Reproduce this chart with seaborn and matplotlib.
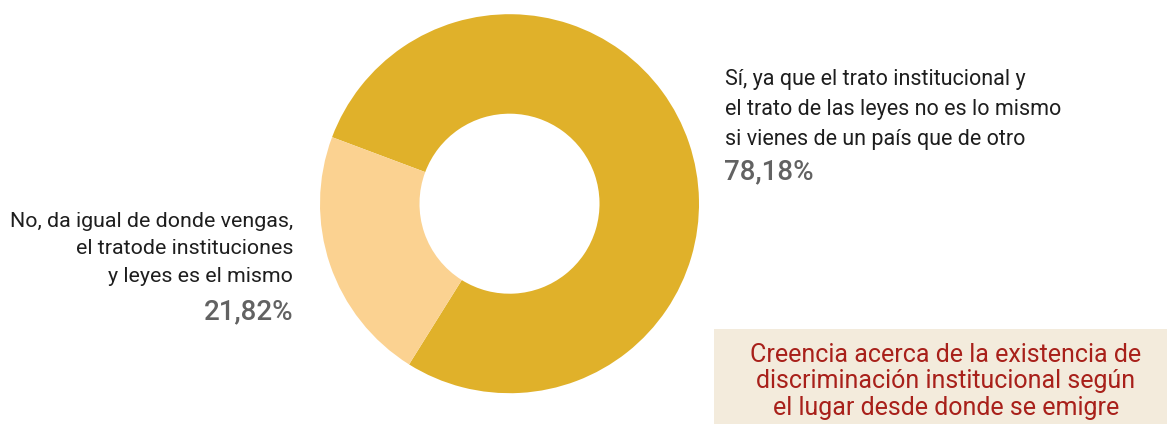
import matplotlib
matplotlib.use("Agg")
import matplotlib.pyplot as plt
from matplotlib.patches import Rectangle
import seaborn as sns

# Survey answers and their shares (%)
labels = [
    "Sí, ya que el trato institucional y\nel trato de las leyes no es lo mismo\nsi vienes de un país que de otro",
    "No, da igual de donde vengas,\nel tratode instituciones\ny leyes es el mismo",
]
shares = [78.18, 21.82]
share_text = ["78,18%", "21,82%"]
colors = ["#E0B12A", "#FBD291"]
title = "Creencia acerca de la existencia de\ndiscriminación institucional según\nel lugar desde donde se emigre"

sns.set_theme(style="white")
plt.rcParams["font.family"] = ["Roboto", "DejaVu Sans"]

W, H = 1167, 424
fig = plt.figure(figsize=(W / 100, H / 100), dpi=100)
fig.patch.set_facecolor("white")

# Donut: centre (509.5, 203.7) px, outer radius 189.5 px
cx, cy, r = 509.5, 203.7, 189.5
ax = fig.add_axes([(cx - r) / W, (H - cy - r) / H, 2 * r / W, 2 * r / H])
ax.pie(shares, colors=colors, startangle=-122, counterclock=True,
       radius=1.0, wedgeprops=dict(width=0.525, linewidth=0))
ax.set_xlim(-1, 1)
ax.set_ylim(-1, 1)
ax.set_aspect("equal")
ax.axis("off")

def fy(y):
    return 1 - y / H

def fx(x):
    return x / W

text_color = "#1E1E1E"
pct_color = "#626262"

# Right label (large slice)
fig.text(fx(725), fy(69), labels[0], ha="left", va="top", fontsize=15.5,
         color=text_color, linespacing=1.56)
fig.text(fx(724), fy(158), share_text[0], ha="left", va="top", fontsize=20,
         color=pct_color, fontweight="medium")

# Left label (small slice)
fig.text(fx(293), fy(212), labels[1], ha="right", va="top", fontsize=15.4,
         color=text_color, linespacing=1.56, multialignment="right")
fig.text(fx(293), fy(298), share_text[1], ha="right", va="top", fontsize=20,
         color=pct_color, fontweight="medium")

# Title box
fig.patches.append(Rectangle((fx(714), 0), fx(W) - fx(714), fy(329),
                             transform=fig.transFigure, facecolor="#F3EBDC",
                             edgecolor="none", zorder=0))
fig.text(fx(946), fy(343), title, ha="center", va="top", fontsize=18,
         color="#A8201A", linespacing=1.13, multialignment="center")

fig.savefig("out.png", dpi=100)
